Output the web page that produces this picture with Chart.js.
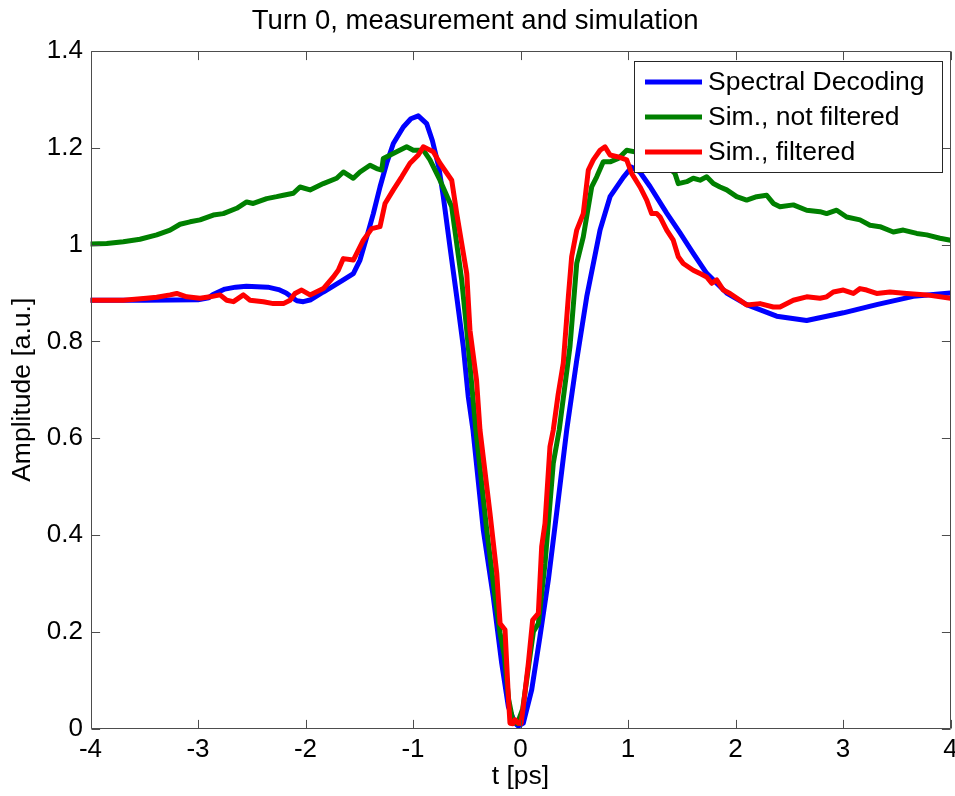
<!DOCTYPE html>
<html>
<head>
<meta charset="utf-8">
<script src="https://cdn.jsdelivr.net/npm/chart.js@4.4.1/dist/chart.umd.min.js"></script>
<style>
html,body{margin:0;padding:0;background:#ffffff;}
#wrap{width:955px;height:796px;}
</style>
</head>
<body>
<div id="wrap"><canvas id="c" width="955" height="796"></canvas></div>
<script>
// ---------- data ----------
const chartTitle = 'Turn 0, measurement and simulation';
const xAxisTitle = 't [ps]';
const yAxisTitle = 'Amplitude [a.u.]';
const xTickValues = [-4, -3, -2, -1, 0, 1, 2, 3, 4];
const yTickValues = [0, 0.2, 0.4, 0.6, 0.8, 1.0, 1.2, 1.4];
const seriesNames = ['Spectral Decoding', 'Sim., not filtered', 'Sim., filtered'];
const seriesColors = ['#0000ff', '#008000', '#ff0000'];

// Spectral Decoding (blue)
const tBlue = [-4, -3.5, -3.0, -2.9, -2.86, -2.75, -2.65, -2.55, -2.45, -2.35, -2.25, -2.18, -2.12, -2.08, -2.02, -1.95,
  -1.834, -1.75, -1.648, -1.555, -1.493, -1.43, -1.369, -1.307, -1.245, -1.183, -1.09, -1.02, -0.951, -0.873, -0.82,
  -0.76, -0.718, -0.656, -0.593, -0.532, -0.486, -0.442, -0.346, -0.253, -0.175, -0.113, -0.051, -0.02, 0.026, 0.104,
  0.181, 0.259, 0.336, 0.43, 0.523, 0.616, 0.74, 0.833, 0.956, 1.034, 1.11, 1.205, 1.36, 1.484, 1.607, 1.73, 1.918,
  2.104, 2.383, 2.662, 3.003, 3.313, 3.654, 4.0];
const ampBlue = [0.885, 0.885, 0.886, 0.89, 0.897, 0.908, 0.912, 0.914, 0.913, 0.912, 0.907, 0.9, 0.89, 0.884, 0.882, 0.886,
  0.902, 0.913, 0.927, 0.94, 0.968, 1.016, 1.064, 1.119, 1.168, 1.209, 1.243, 1.26, 1.266, 1.25, 1.215,
  1.16, 1.099, 0.995, 0.892, 0.789, 0.686, 0.617, 0.41, 0.272, 0.135, 0.045, 0.011, 0.005, 0.011, 0.08,
  0.19, 0.307, 0.445, 0.617, 0.761, 0.892, 1.03, 1.099, 1.139, 1.16, 1.15, 1.12, 1.065, 1.024, 0.982, 0.941, 0.9,
  0.876, 0.852, 0.843, 0.859, 0.876, 0.893, 0.9];

// Sim., not filtered (green)
const tGreen = [-4, -3.849, -3.695, -3.54, -3.384, -3.26, -3.167, -3.074, -2.981, -2.858, -2.765, -2.64, -2.547, -2.486,
  -2.361, -2.268, -2.206, -2.113, -2.051, -1.958, -1.834, -1.71, -1.648, -1.555, -1.493, -1.4, -1.338, -1.291, -1.276,
  -1.152, -1.059, -0.997, -0.904, -0.842, -0.749, -0.64, -0.547, -0.5, -0.415, -0.314, -0.237, -0.19, -0.15, -0.11,
  -0.07, -0.03, 0.02, 0.07, 0.12, 0.166, 0.228, 0.305, 0.36, 0.46, 0.523, 0.584, 0.662, 0.709, 0.77, 0.833, 0.91,
  0.988, 1.1, 1.25, 1.38, 1.437, 1.468, 1.546, 1.607, 1.67, 1.732, 1.794, 1.856, 1.918, 2.011, 2.104, 2.197, 2.29,
  2.352, 2.414, 2.538, 2.662, 2.786, 2.848, 2.941, 3.034, 3.158, 3.251, 3.344, 3.468, 3.561, 3.686, 3.779, 3.902, 4.0];
const ampGreen = [1.001, 1.002, 1.006, 1.011, 1.02, 1.03, 1.042, 1.047, 1.051, 1.061, 1.064, 1.075, 1.088, 1.085,
  1.095, 1.099, 1.102, 1.106, 1.119, 1.113, 1.126, 1.137, 1.15, 1.137, 1.15, 1.164, 1.157, 1.154, 1.178,
  1.192, 1.202, 1.195, 1.195, 1.175, 1.133, 1.078, 0.927, 0.823, 0.617, 0.41, 0.272, 0.197, 0.15, 0.06,
  0.015, 0.01, 0.04, 0.12, 0.2, 0.217, 0.341, 0.548, 0.617, 0.789, 0.961, 1.016, 1.119, 1.14, 1.171, 1.171, 1.178,
  1.195, 1.19, 1.175, 1.16, 1.147, 1.126, 1.13, 1.137, 1.133, 1.14, 1.126, 1.119, 1.113, 1.099, 1.092, 1.099, 1.102,
  1.085, 1.078, 1.082, 1.071, 1.068, 1.064, 1.071, 1.057, 1.051, 1.04, 1.037, 1.026, 1.03, 1.023, 1.02, 1.013, 1.009];

// Sim., filtered (red)
const tRed = [-4, -3.695, -3.48, -3.384, -3.26, -3.198, -3.105, -2.981, -2.888, -2.795, -2.733, -2.67, -2.578, -2.516,
  -2.392, -2.299, -2.206, -2.144, -2.098, -2.036, -1.958, -1.834, -1.741, -1.695, -1.648, -1.555, -1.462, -1.384,
  -1.307, -1.26, -1.183, -1.105, -1.028, -0.951, -0.904, -0.811, -0.749, -0.64, -0.593, -0.5, -0.47, -0.409, -0.377,
  -0.284, -0.221, -0.19, -0.144, -0.113, -0.098, -0.07, -0.051, -0.02, 0.005, 0.026, 0.073, 0.113, 0.166, 0.197,
  0.228, 0.274, 0.305, 0.35, 0.398, 0.445, 0.476, 0.523, 0.584, 0.631, 0.677, 0.74, 0.786, 0.833, 0.91, 0.988,
  1.034, 1.112, 1.174, 1.22, 1.267, 1.298, 1.36, 1.421, 1.468, 1.514, 1.607, 1.67, 1.732, 1.779, 1.825, 1.887,
  1.949, 2.042, 2.104, 2.228, 2.352, 2.414, 2.538, 2.662, 2.786, 2.848, 2.91, 3.003, 3.096, 3.158, 3.22, 3.313,
  3.437, 3.593, 3.779, 4.0];
const ampRed = [0.885, 0.885, 0.889, 0.891, 0.896, 0.899, 0.892, 0.889, 0.892, 0.896, 0.885, 0.882, 0.896, 0.885,
  0.882, 0.878, 0.878, 0.885, 0.899, 0.906, 0.896, 0.909, 0.933, 0.947, 0.971, 0.968, 1.009, 1.033,
  1.037, 1.085, 1.113, 1.14, 1.168, 1.185, 1.202, 1.192, 1.168, 1.133, 1.064, 0.94, 0.823, 0.72, 0.617,
  0.445, 0.321, 0.217, 0.204, 0.066, 0.011, 0.01, 0.018, 0.011, 0.01, 0.045, 0.135, 0.224, 0.238, 0.376,
  0.424, 0.582, 0.617, 0.69, 0.755, 0.892, 0.975, 1.03, 1.064, 1.154, 1.175, 1.195, 1.202, 1.185, 1.181, 1.175,
  1.147, 1.119, 1.092, 1.064, 1.064, 1.057, 1.03, 1.009, 0.975, 0.961, 0.947, 0.94, 0.933, 0.92, 0.927, 0.906,
  0.899, 0.885, 0.875, 0.878, 0.871, 0.871, 0.885, 0.892, 0.889, 0.892, 0.902, 0.906, 0.899, 0.909, 0.906, 0.899,
  0.902, 0.899, 0.896, 0.889];

// ---------- helpers ----------
function pairs(ts, vs) { return ts.map((t, i) => ({x: t, y: vs[i]})); }
const FONT = 'Liberation Sans, Arial, Helvetica, sans-serif';
const AXIS_COLOR = '#4d4d4d';

const framePlugin = {
  id: 'frame',
  afterDatasetsDraw(chart) {
    const {ctx, chartArea: a, scales} = chart;
    ctx.save();
    ctx.strokeStyle = AXIS_COLOR;
    ctx.lineWidth = 1;
    const L = Math.round(a.left) + 0.5, R = Math.round(a.right) - 0.5;
    const T = Math.round(a.top) + 0.5, B = Math.round(a.bottom) - 0.5;
    ctx.beginPath();
    ctx.rect(L, T, R - L, B - T);
    ctx.stroke();
    const tl = 8.6;
    ctx.beginPath();
    xTickValues.forEach(v => {
      const px = Math.round(scales.x.getPixelForValue(v)) + 0.5;
      ctx.moveTo(px, B); ctx.lineTo(px, B - tl);
      ctx.moveTo(px, T); ctx.lineTo(px, T + tl);
    });
    yTickValues.forEach(v => {
      const py = Math.round(scales.y.getPixelForValue(v)) + 0.5;
      ctx.moveTo(L, py); ctx.lineTo(L + tl, py);
      ctx.moveTo(R, py); ctx.lineTo(R - tl, py);
    });
    ctx.stroke();

    // legend box (top right, inside the axes)
    const bx = 634.5, by = 61.5, bw = 308, bh = 111;
    ctx.fillStyle = '#ffffff';
    ctx.fillRect(bx, by, bw, bh);
    ctx.strokeStyle = '#262626';
    ctx.strokeRect(bx, by, bw, bh);
    ctx.font = '26.5px ' + FONT;
    ctx.textBaseline = 'middle';
    ctx.textAlign = 'left';
    chart.data.datasets.forEach((ds, i) => {
      const yy = 82 + i * 35;
      ctx.strokeStyle = ds.borderColor;
      ctx.lineWidth = 5;
      ctx.beginPath();
      ctx.moveTo(645, yy); ctx.lineTo(702, yy);
      ctx.stroke();
      ctx.fillStyle = '#000000';
      ctx.fillText(ds.label, 708, yy + 1);
    });
    ctx.restore();
  }
};

const datasets = [
  {label: seriesNames[0], data: pairs(tBlue, ampBlue), borderColor: seriesColors[0], order: 3},
  {label: seriesNames[1], data: pairs(tGreen, ampGreen), borderColor: seriesColors[1], order: 2},
  {label: seriesNames[2], data: pairs(tRed, ampRed), borderColor: seriesColors[2], order: 1}
].map(d => Object.assign(d, {
  borderWidth: 5, pointRadius: 0, pointHoverRadius: 0, tension: 0, fill: false,
  borderJoinStyle: 'round', borderCapStyle: 'round', backgroundColor: d.borderColor
}));

new Chart(document.getElementById('c'), {
  type: 'line',
  data: {datasets},
  plugins: [framePlugin],
  options: {
    responsive: false,
    animation: false,
    devicePixelRatio: 1,
    events: [],
    layout: {padding: {left: 0, right: 4.5, top: 0, bottom: 0}},
    plugins: {
      legend: {display: false},
      tooltip: {enabled: false},
      title: {
        display: true, text: chartTitle, color: '#000000',
        font: {family: FONT, size: 27.5, weight: 'normal', lineHeight: 1.2},
        padding: {top: 5, bottom: 13}
      }
    },
    scales: {
      x: {
        type: 'linear', min: -4, max: 4,
        afterBuildTicks: s => { s.ticks = xTickValues.map(v => ({value: v})); },
        afterFit: s => { s.height = 67.5; s.paddingLeft = 0; s.paddingRight = 0; },
        grid: {display: false, drawTicks: false},
        border: {display: false},
        ticks: {
          color: '#000000', padding: 6, maxRotation: 0, autoSkip: false,
          font: {family: FONT, size: 26},
          callback: v => String(v)
        },
        title: {
          display: true, text: xAxisTitle, color: '#000000',
          font: {family: FONT, size: 26.5, lineHeight: 1.2},
          padding: {top: 0, bottom: 3}
        }
      },
      y: {
        type: 'linear', min: 0, max: 1.4,
        afterBuildTicks: s => { s.ticks = yTickValues.map(v => ({value: v})); },
        afterFit: s => { s.width = 90.5; s.paddingTop = 0; s.paddingBottom = 0; },
        grid: {display: false, drawTicks: false},
        border: {display: false},
        ticks: {
          color: '#000000', padding: 7.5, autoSkip: false,
          font: {family: FONT, size: 26},
          callback: v => String(+Number(v).toFixed(1))
        },
        title: {
          display: true, text: yAxisTitle, color: '#000000',
          font: {family: FONT, size: 26.5, lineHeight: 1.2},
          padding: {top: 6.6, bottom: 0}
        }
      }
    }
  }
});
</script>
</body>
</html>
